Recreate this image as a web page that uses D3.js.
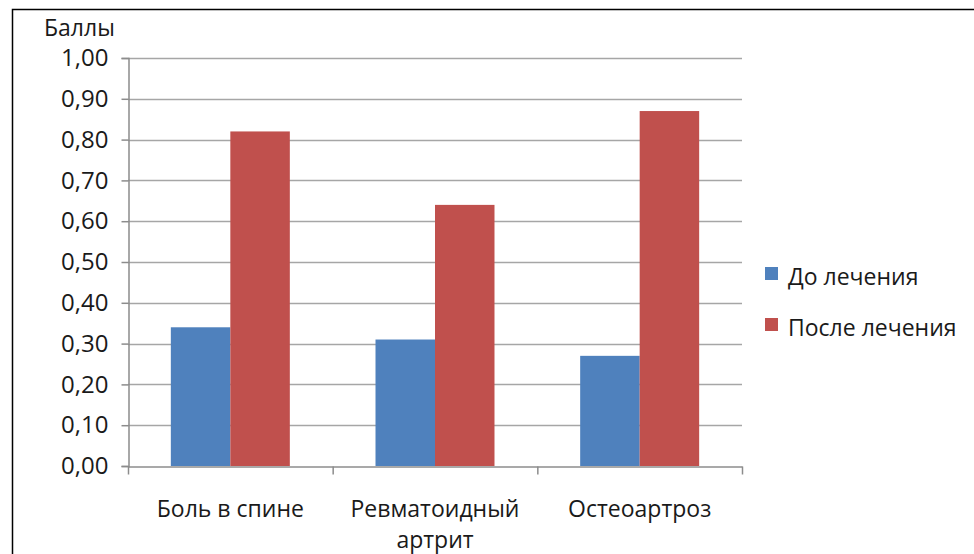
<!DOCTYPE html>
<html>
<head>
<meta charset="utf-8">
<script src="https://cdn.jsdelivr.net/npm/d3@7"></script>
<style>
  html, body { margin: 0; padding: 0; background: #fff; }
  svg { display: block; }
  text { font-family: "Open Sans", sans-serif; fill: #1a1a1a; }
</style>
</head>
<body>
<svg id="chart" width="974" height="554"></svg>
<script>
// Chart data
const categories = ["Боль в спине", "Ревматоидный артрит", "Остеоартроз"];
const categoryLines = [["Боль в спине"], ["Ревматоидный", "артрит"], ["Остеоартроз"]];
const seriesNames = ["До лечения", "После лечения"];
const beforeValues = [0.34, 0.31, 0.27];
const afterValues = [0.82, 0.64, 0.87];
const yTicks = [0, 0.1, 0.2, 0.3, 0.4, 0.5, 0.6, 0.7, 0.8, 0.9, 1.0];
const yTitle = "Баллы";
const colors = ["#4F81BD", "#C0504D"];

const svg = d3.select("#chart");

// Outer frame
svg.append("rect")
  .attr("x", 12.5).attr("y", 9.5)
  .attr("width", 1000).attr("height", 600)
  .attr("fill", "none").attr("stroke", "#000").attr("stroke-width", 1.5);

const plot = { left: 128, right: 742, top: 58, bottom: 466 };

const x = d3.scaleBand().domain(categories).range([plot.left, plot.right]).paddingInner(0).paddingOuter(0);
const y = d3.scaleLinear().domain([0, 1]).range([plot.bottom, plot.top]);
const inner = d3.scaleBand().domain(seriesNames).range([0, x.bandwidth()]).paddingInner(0).paddingOuter(0.72);

// Gridlines
svg.append("g").selectAll("line").data(yTicks.slice(1)).join("line")
  .attr("x1", plot.left).attr("x2", plot.right)
  .attr("y1", d => Math.round(y(d)) + 0.5).attr("y2", d => Math.round(y(d)) + 0.5)
  .attr("stroke", "#a6a6a6").attr("stroke-width", 1.5);

// Bars
const rows = categories.map((c, i) => ({ cat: c, vals: [beforeValues[i], afterValues[i]] }));
const groups = svg.append("g").selectAll("g").data(rows).join("g")
  .attr("transform", d => `translate(${x(d.cat)},0)`);
groups.selectAll("rect").data(d => d.vals.map((v, j) => ({ v, s: seriesNames[j], j })))
  .join("rect")
  .attr("x", d => inner(d.s))
  .attr("width", inner.bandwidth())
  .attr("y", d => y(d.v))
  .attr("height", d => y(0) - y(d.v))
  .attr("fill", d => colors[d.j]);

// Y axis
const fmt = d => d3.format(".2f")(d).replace(".", ",");
const yAxis = svg.append("g")
  .attr("transform", `translate(${plot.left + 0.5},0)`)
  .call(d3.axisLeft(y).tickValues(yTicks).tickFormat(fmt).tickSize(7).tickPadding(13));
yAxis.select(".domain").attr("stroke", "#8c8c8c").attr("stroke-width", 1.5);
yAxis.selectAll(".tick line").attr("stroke", "#8c8c8c").attr("stroke-width", 1.5);
yAxis.selectAll(".tick text").attr("font-size", 24).attr("font-family", "Open Sans").attr("fill", "#1a1a1a");

// X axis
const xAxis = svg.append("g")
  .attr("transform", `translate(0,${plot.bottom + 0.5})`)
  .call(d3.axisBottom(x).tickValues([]).tickSizeOuter(0));
xAxis.select(".domain").attr("stroke", "#8c8c8c").attr("stroke-width", 1.5);
const boundaries = categories.map(c => x(c)).concat([x(categories[categories.length - 1]) + x.bandwidth()]);
xAxis.selectAll("line.bound").data(boundaries).join("line").attr("class", "bound")
  .attr("x1", d => d + 0.5).attr("x2", d => d + 0.5).attr("y1", 0).attr("y2", 8)
  .attr("stroke", "#8c8c8c").attr("stroke-width", 1.5);

// Category labels
const labels = svg.append("g").selectAll("text").data(categories).join("text")
  .attr("x", d => x(d) + x.bandwidth() / 2)
  .attr("y", 517)
  .attr("text-anchor", "middle")
  .attr("font-size", 23);
labels.each(function(d, i) {
  d3.select(this).selectAll("tspan").data(categoryLines[i]).join("tspan")
    .attr("x", x(d) + x.bandwidth() / 2)
    .attr("dy", (t, k) => k === 0 ? 0 : 31)
    .text(t => t);
});

// Y title
svg.append("text").attr("x", 44).attr("y", 36).attr("font-size", 23).text(yTitle);

// Legend
const legend = svg.append("g").selectAll("g").data(seriesNames).join("g")
  .attr("transform", (d, i) => `translate(765,${267 + i * 51})`);
legend.append("rect").attr("width", 13).attr("height", 13).attr("fill", (d, i) => colors[i]);
legend.append("text").attr("x", 23).attr("y", 18).attr("font-size", 23).text(d => d);
</script>
</body>
</html>
